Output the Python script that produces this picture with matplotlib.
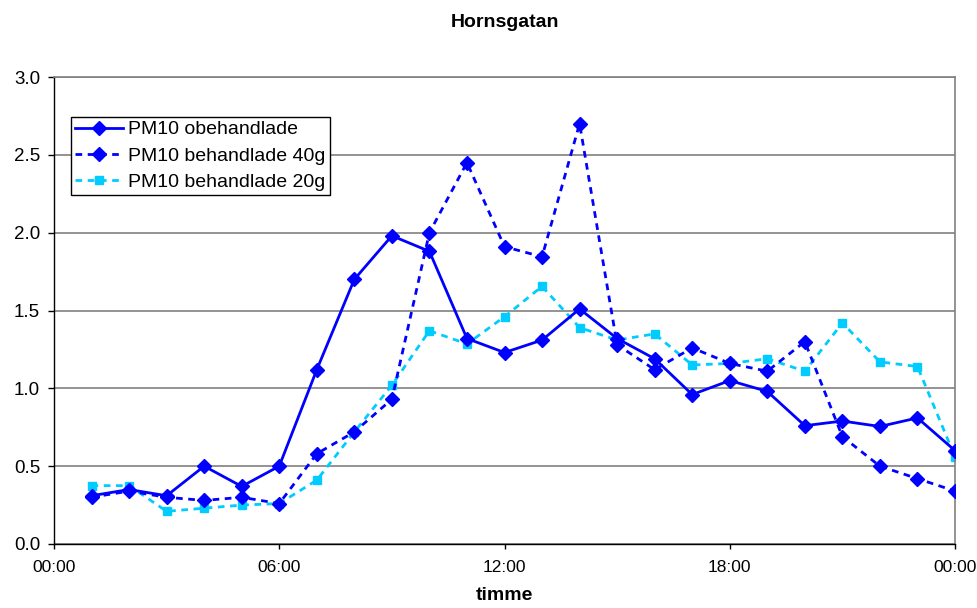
import matplotlib
matplotlib.use("Agg")
import matplotlib.pyplot as plt

plt.rcParams["font.family"] = ["Liberation Sans", "DejaVu Sans"]

timmar = list(range(1, 25))
obehandlade = [0.31, 0.35, 0.31, 0.50, 0.37, 0.50, 1.12, 1.70, 1.98, 1.88, 1.32, 1.23,
               1.31, 1.51, 1.32, 1.19, 0.96, 1.05, 0.98, 0.76, 0.79, 0.755, 0.81, 0.60]
behandlade_40g = [0.30, 0.34, 0.30, 0.28, 0.30, 0.26, 0.58, 0.72, 0.93, 2.00, 2.45, 1.91,
                  1.845, 2.70, 1.28, 1.12, 1.26, 1.16, 1.11, 1.30, 0.69, 0.50, 0.42, 0.34]
behandlade_20g = [0.375, 0.375, 0.21, 0.23, 0.25, 0.26, 0.41, 0.72, 1.02, 1.37, 1.285, 1.46,
                  1.655, 1.39, 1.31, 1.35, 1.15, 1.16, 1.19, 1.11, 1.42, 1.17, 1.14, 0.56]
x_ticks = [0, 6, 12, 18, 24]
x_labels = ["00:00", "06:00", "12:00", "18:00", "00:00"]

fig = plt.figure(figsize=(9.78, 6.08), dpi=100)
ax = fig.add_axes([54 / 978, 1 - 544 / 608, (955 - 54) / 978, (544 - 77) / 608])

ax.plot(timmar, obehandlade, color="#0000FF", lw=2, marker="D", ms=7,
        label="PM10 obehandlade", zorder=3)
ax.plot(timmar, behandlade_40g, color="#0000FF", lw=2, ls=(0, (2.4, 2.0)), marker="D", ms=7,
        label="PM10 behandlade 40g", zorder=4)
ax.plot(timmar, behandlade_20g, color="#00CCFF", lw=2, ls=(0, (2.4, 2.0)), marker="s", ms=6,
        label="PM10 behandlade 20g", zorder=2)

ax.set_xlim(0, 24)
ax.set_ylim(0, 3.0)
ax.set_xticks(x_ticks)
ax.set_xticklabels(x_labels)
ax.set_yticks([0, 0.5, 1.0, 1.5, 2.0, 2.5, 3.0])
ax.set_yticklabels([f"{v:.1f}" for v in ax.get_yticks()])
ax.tick_params(axis="both", direction="out", width=1, colors="black")
ax.tick_params(axis="y", labelsize=13.5, pad=5.5, length=4.5)
ax.tick_params(axis="x", labelsize=12.5, pad=8, length=3.5)

# gridlines horizontales
ax.grid(axis="y", color="#808080", lw=1.2)
ax.set_axisbelow(True)
for lado in ("top", "right"):
    ax.spines[lado].set_color("#808080")
    ax.spines[lado].set_linewidth(1.2)
for lado in ("left", "bottom"):
    ax.spines[lado].set_color("black")
    ax.spines[lado].set_linewidth(1)

ax.set_title("Hornsgatan", fontsize=14, fontweight="bold", pad=36)
ax.set_xlabel("timme", fontsize=14, fontweight="bold", labelpad=9)

leg = ax.legend(loc="upper left", bbox_to_anchor=(17 / 901, 1 - 40 / 467), fontsize=14,
                frameon=True, fancybox=False, framealpha=1, edgecolor="black",
                borderpad=0.2, handlelength=2.45, handletextpad=0.3, labelspacing=0.45,
                borderaxespad=0)
leg.get_frame().set_linewidth(1)

fig.savefig("out.png", dpi=100)
